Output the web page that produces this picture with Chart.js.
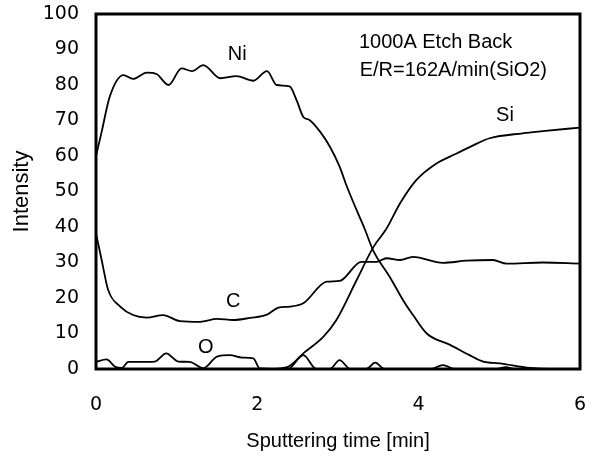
<!DOCTYPE html>
<html>
<head>
<meta charset="utf-8">
<script src="https://cdn.jsdelivr.net/npm/chart.js@4/dist/chart.umd.min.js"></script>
<style>
  html, body { margin: 0; padding: 0; background: #fff; }
  #wrap { width: 599px; height: 457px; }
</style>
</head>
<body>
<div id="wrap"><canvas id="chartPerfil"></canvas></div>
<script>
// datos (tiempo en min, intensidad)
const niTiempo = [0, 0.07, 0.17, 0.34, 0.46, 0.63, 0.75, 0.9, 1.06, 1.19, 1.33, 1.54, 1.74, 1.95, 2.12, 2.24, 2.4, 2.49, 2.57, 2.65, 2.78, 2.9, 3.02, 3.11, 3.23, 3.33, 3.44, 3.64, 3.83, 3.93, 4.1, 4.39, 4.63, 4.8, 5.0, 5.38, 5.63, 6];
const niValores = [60, 66.8, 76.7, 82.8, 81.7, 83.5, 83.1, 80, 84.7, 83.9, 85.6, 81.9, 82.5, 81.2, 83.9, 80, 79.6, 75.5, 71, 70.1, 66.8, 62.6, 57, 51.4, 44.8, 39.5, 33.2, 26, 18.5, 15.2, 10, 6.8, 3.9, 2.1, 1.6, 0.3, 0, 0];

const siTiempo = [2.2, 2.38, 2.57, 2.82, 2.98, 3.23, 3.44, 3.6, 3.77, 3.97, 4.22, 4.47, 4.72, 4.88, 5.29, 5.54, 6];
const siValores = [0, 0.6, 4.4, 9.1, 13.8, 25, 34.4, 39.5, 46.7, 53.2, 57.9, 60.7, 63.5, 65, 66.4, 67, 68];

const cTiempo = [0, 0.07, 0.15, 0.3, 0.46, 0.63, 0.83, 1.04, 1.29, 1.5, 1.7, 1.91, 2.12, 2.26, 2.4, 2.57, 2.86, 3.02, 3.29, 3.48, 3.6, 3.77, 3.93, 4.3, 4.59, 4.92, 5.09, 5.54, 6];
const cValores = [38.2, 30.7, 22.3, 17.6, 15.2, 14.5, 15.2, 13.5, 13.3, 14.1, 13.8, 14.4, 15.3, 17.3, 17.6, 18.5, 24.6, 24.8, 30.2, 30.2, 31.2, 30.7, 31.6, 29.9, 30.5, 30.7, 29.7, 30, 29.7];

const oTiempo = [0, 0.13, 0.24, 0.32, 0.4, 0.54, 0.73, 0.87, 1.02, 1.16, 1.33, 1.5, 1.66, 1.81, 1.95, 2.03, 2.38, 2.57, 2.73, 2.9, 3.02, 3.15, 3.35, 3.46, 3.58, 4.15, 4.3, 4.45, 4.95, 5.08, 5.2, 6];
const oValores = [2, 2.7, 0.6, 0.3, 2, 2, 2.1, 4.4, 2.1, 2, 0.2, 3.5, 3.9, 3.2, 3, 0.2, 0, 3.9, 0, 0, 2.5, 0, 0, 1.8, 0, 0, 1.1, 0, 0, 0.5, 0, 0];

const ticksX = [0, 2, 4, 6];

// etiquetas dentro de la grafica: [texto, tiempo, intensidad]
const etiquetas = [
    ['Ni', 1.75, 88.5],
    ['Si', 5.07, 71.5],
    ['C', 1.7, 18.9],
    ['O', 1.36, 6.2],
    ['1000A Etch Back', 4.21, 92.1],
    ['E/R=162A/min(SiO2)', 4.43, 84.2]
];

const fuente = '"Liberation Sans", Arial, sans-serif';

const juntar = (xs, ys) => xs.map((x, i) => ({ x: x, y: ys[i] }));

const serie = (nombre, xs, ys) => ({
    label: nombre,
    data: juntar(xs, ys),
    borderColor: '#000',
    borderWidth: 1.8,
    pointRadius: 0,
    cubicInterpolationMode: 'monotone',
    fill: false
});

// marco negro y textos
const pluginMarco = {
    id: 'marco',
    afterDraw(chart) {
        const { ctx, chartArea: a, scales } = chart;
        ctx.save();
        ctx.strokeStyle = '#000';
        ctx.lineWidth = 3;
        ctx.strokeRect(a.left, a.top, a.right - a.left, a.bottom - a.top);
        ctx.fillStyle = '#000';
        ctx.font = '20px ' + fuente;
        ctx.textAlign = 'center';
        ctx.textBaseline = 'middle';
        etiquetas.forEach(e => {
            ctx.fillText(e[0], scales.x.getPixelForValue(e[1]), scales.y.getPixelForValue(e[2]));
        });
        ctx.restore();
    }
};

new Chart(document.getElementById('chartPerfil'), {
    type: 'line',
    data: {
        datasets: [
            serie('Ni', niTiempo, niValores),
            serie('Si', siTiempo, siValores),
            serie('C', cTiempo, cValores),
            serie('O', oTiempo, oValores)
        ]
    },
    options: {
        responsive: true,
        maintainAspectRatio: false,
        animation: false,
        layout: { padding: { top: 14, right: 19, left: 3, bottom: 0 } },
        scales: {
            x: {
                type: 'linear',
                min: 0,
                max: 6,
                afterBuildTicks: s => { s.ticks = ticksX.map(v => ({ value: v })); },
                afterFit: s => { s.height = 88; s.paddingLeft = 0; s.paddingRight = 0; },
                grid: { display: false },
                border: { display: false },
                ticks: { color: '#000', padding: 17, font: { size: 19, family: '"DejaVu Sans", sans-serif' } },
                title: {
                    display: true,
                    text: 'Sputtering time [min]',
                    color: '#000',
                    padding: { top: 0 },
                    font: { size: 20, family: fuente }
                }
            },
            y: {
                min: 0,
                max: 100,
                afterFit: s => { s.width = 93; s.paddingTop = 0; s.paddingBottom = 0; },
                grid: { display: false },
                border: { display: false },
                ticks: { stepSize: 10, color: '#000', padding: 9, font: { size: 19, family: '"DejaVu Sans", sans-serif' } },
                title: {
                    display: true,
                    text: 'Intensity',
                    color: '#000',
                    padding: { top: 6, bottom: 0 },
                    font: { size: 22, family: fuente }
                }
            }
        },
        plugins: {
            legend: { display: false },
            tooltip: { enabled: false }
        }
    },
    plugins: [pluginMarco]
});
</script>
</body>
</html>
